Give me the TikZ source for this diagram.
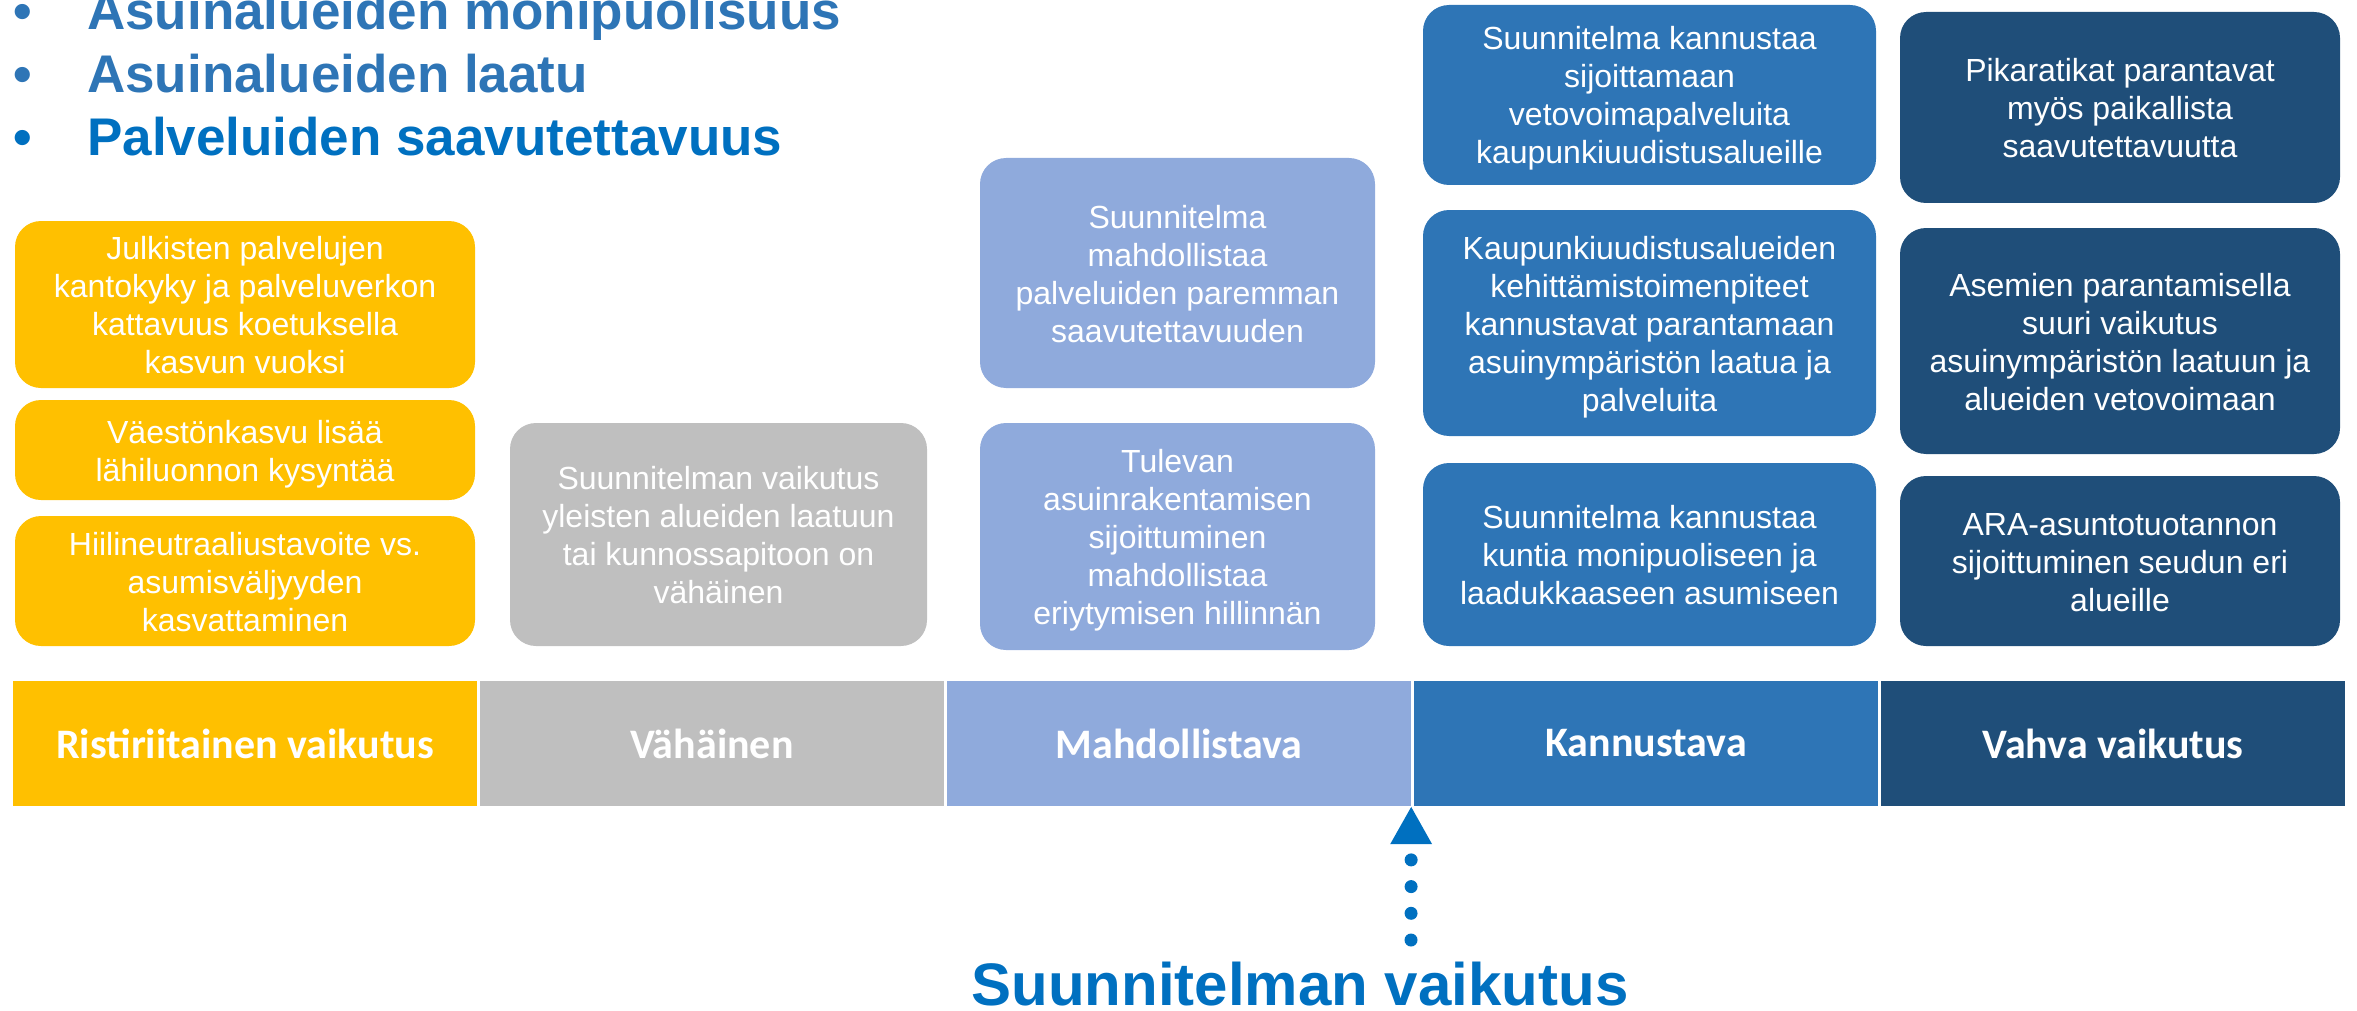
\documentclass[tikz,border=0pt]{standalone}
\usepackage{fontspec}
\setmainfont{Liberation Sans}
\newfontfamily\barfont{Carlito}
\usetikzlibrary{arrows.meta}
\definecolor{cyellow}{HTML}{FFC000}
\definecolor{cgrey}{HTML}{BFBFBF}
\definecolor{clight}{HTML}{8FAADC}
\definecolor{cmid}{HTML}{2E75B6}
\definecolor{cdark}{HTML}{1F4E79}
\definecolor{chead}{HTML}{2E75B6}
\definecolor{cbright}{HTML}{0070C0}
\newcommand\bxtop{\rule{0pt}{31pt}}
\newcommand\bxbot{\rule[-7pt]{0pt}{7pt}}
\begin{document}
\begin{tikzpicture}[x=1pt,y=-1pt,
  box/.style={rounded corners=26pt, inner sep=0pt, align=center, text=white,
    font=\fontsize{32}{38}\selectfont},
  seg/.style={minimum width=464pt, minimum height=125pt, inner sep=0pt, text=white,
    font=\barfont\bfseries\fontsize{42}{50}\selectfont},
  head/.style={anchor=base west, inner sep=0pt, font=\bfseries\fontsize{53}{63}\selectfont},
  pointer/.style={draw=cbright, line width=13pt, line cap=round,
    dash pattern=on 0pt off 26.7pt on 0pt off 26.7pt on 0pt off 26.7pt on 0pt off 300pt,
    -{Triangle[length=38pt, width=39pt, fill=cbright]}}
]
\useasboundingbox (0,0) rectangle (2357,1011);

% header bullets
\node[head, text=chead] (b1) at (13,30) {•};
\node[head, text=chead] (h1) at (87,30) {Asuinalueiden monipuolisuus};
\node[head, text=chead] (b2) at (13,93) {•};
\node[head, text=chead] (h2) at (87,93) {Asuinalueiden laatu};
\node[head, text=cbright] (b3) at (13,156) {•};
\node[head, text=cbright] (h3) at (87,156) {Palveluiden saavutettavuus};

% yellow column
\node[box, fill=cyellow, minimum width=460pt, minimum height=167pt] (y1) at (245,304.5)
  {\bxtop Julkisten palvelujen\\kantokyky ja palveluverkon\\kattavuus koetuksella\\kasvun vuoksi\bxbot};
\node[box, fill=cyellow, minimum width=460pt, minimum height=100pt] (y2) at (245,450)
  {\bxtop Väestönkasvu lisää\\lähiluonnon kysyntää\bxbot};
\node[box, fill=cyellow, minimum width=460pt, minimum height=130pt] (y3) at (245,581)
  {\bxtop Hiilineutraaliustavoite vs.\\asumisväljyyden\\kasvattaminen\bxbot};

% grey column
\node[box, fill=cgrey, minimum width=417pt, minimum height=223pt] (g1) at (718.5,534.5)
  {\bxtop Suunnitelman vaikutus\\yleisten alueiden laatuun\\tai kunnossapitoon on\\vähäinen\bxbot};

% light blue column
\node[box, fill=clight, minimum width=395pt, minimum height=230pt] (l1) at (1177.5,273)
  {\bxtop Suunnitelma\\mahdollistaa\\palveluiden paremman\\saavutettavuuden\bxbot};
\node[box, fill=clight, minimum width=395pt, minimum height=227pt] (l2) at (1177.5,536.5)
  {\bxtop Tulevan\\asuinrakentamisen\\sijoittuminen\\mahdollistaa\\eriytymisen hillinnän\bxbot};

% mid blue column
\node[box, fill=cmid, minimum width=453pt, minimum height=180pt] (k1) at (1649.5,95)
  {\bxtop Suunnitelma kannustaa\\sijoittamaan\\vetovoimapalveluita\\kaupunkiuudistusalueille\bxbot};
\node[box, fill=cmid, minimum width=453pt, minimum height=226pt] (k2) at (1649.5,323)
  {\bxtop Kaupunkiuudistusalueiden\\kehittämistoimenpiteet\\kannustavat parantamaan\\asuinympäristön laatua ja\\palveluita\bxbot};
\node[box, fill=cmid, minimum width=453pt, minimum height=183pt] (k3) at (1649.5,554.5)
  {\bxtop Suunnitelma kannustaa\\kuntia monipuoliseen ja\\laadukkaaseen asumiseen\bxbot};

% dark blue column
\node[box, fill=cdark, minimum width=440pt, minimum height=191pt] (v1) at (2120,107.5)
  {\bxtop Pikaratikat parantavat\\myös paikallista\\saavutettavuutta\bxbot};
\node[box, fill=cdark, minimum width=440pt, minimum height=226pt] (v2) at (2120,341)
  {\bxtop Asemien parantamisella\\suuri vaikutus\\asuinympäristön laatuun ja\\alueiden vetovoimaan\bxbot};
\node[box, fill=cdark, minimum width=440pt, minimum height=170pt] (v3) at (2120,561)
  {\bxtop ARA-asuntotuotannon\\sijoittuminen seudun eri\\alueille\bxbot};

% scale bar
\node[seg, fill=cyellow] (s1) at (245,743.5) {Ristiriitainen vaikutus};
\node[seg, fill=cgrey] (s2) at (712,743.5) {Vähäinen};
\node[seg, fill=clight] (s3) at (1179,743.5) {Mahdollistava};
\node[seg, fill=cmid] (s4) at (1646,743.5) {Kannustava};
\node[seg, fill=cdark] (s5) at (2113,743.5) {Vahva vaikutus};

% pointer
\node[anchor=base, inner sep=0pt, text=cbright, font=\bfseries\fontsize{60}{72}\selectfont]
  (impact) at (1300,1005) {Suunnitelman vaikutus};
\coordinate (tail) at (1411,940);
\draw[pointer] (tail) -- (s3.south east);
\end{tikzpicture}
\end{document}
